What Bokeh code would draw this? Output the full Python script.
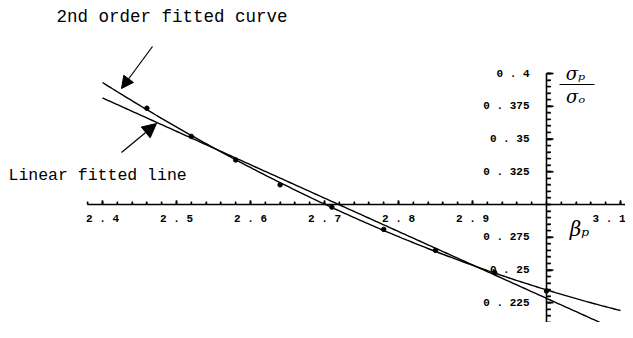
import numpy as np
from bokeh.plotting import figure
from bokeh.models import (FixedTicker, CustomJSTickFormatter, Label, Arrow,
                          NormalHead, Range1d)
from bokeh.embed import file_html
from bokeh.resources import INLINE

# ---- data ----
beta_p = [2.46, 2.52, 2.58, 2.64, 2.71, 2.78, 2.85, 2.93, 3.00]
sigma_ratio = [0.3735, 0.352, 0.334, 0.315, 0.298, 0.281, 0.265, 0.248, 0.234]
x_major = [2.4, 2.5, 2.6, 2.7, 2.8, 2.9, 3.1]
x_minor = [round(2.38 + 0.02 * i, 2) for i in range(37)]
y_major = [0.225, 0.25, 0.275, 0.325, 0.35, 0.375, 0.4]
y_minor = [round(0.2 + 0.005 * i, 3) for i in range(41)]
fit_span = (2.4, 3.1)

# ---- layout ----
W, H = 625, 322
X0_PX, PX_PER_X = 546, 740    # figure px where beta = 3.0
Y0_PX, PX_PER_Y = 204, 1310   # figure px (from top) where ratio = 0.3

x_start = 3.0 - X0_PX / PX_PER_X
x_end = 3.0 + (W - X0_PX) / PX_PER_X
y_end = 0.3 + Y0_PX / PX_PER_Y
y_start = 0.3 - (H - Y0_PX) / PX_PER_Y


def at(px, py):
    """reference-image pixel -> data coordinates"""
    return (3.0 + (px - 1 - X0_PX) / PX_PER_X,
            0.3 - (py - 1 - Y0_PX) / PX_PER_Y)


p = figure(width=W, height=H, x_range=Range1d(x_start, x_end),
           y_range=Range1d(y_start, y_end), output_backend="svg",
           toolbar_location=None, min_border=0)
p.outline_line_color = None
p.grid.visible = False
p.background_fill_color = "white"

# axes crossing at (3.0, 0.3)
p.xaxis.fixed_location = 0.3
p.yaxis.fixed_location = 3.0
fmt_code = "return (+tick.toFixed(3)).toString().replace('.', ' . ');"
for ax, major, minor, bounds in ((p.xaxis[0], x_major, x_minor, (2.38, 3.11)),
                                 (p.yaxis[0], y_major, y_minor, (0.2, 0.4))):
    ax.ticker = FixedTicker(ticks=major, minor_ticks=minor)
    ax.formatter = CustomJSTickFormatter(code=fmt_code)
    ax.bounds = bounds
    ax.axis_line_color = "black"
    ax.axis_line_width = 1.6
    ax.major_tick_line_color = "black"
    ax.major_tick_line_width = 1.6
    ax.minor_tick_line_color = "black"
    ax.minor_tick_line_width = 1.4
    ax.major_label_text_font = "Liberation Mono"
    ax.major_label_text_font_style = "bold"
    ax.major_label_text_font_size = "11px"
    ax.major_label_text_color = "black"

p.xaxis.major_tick_in = 4
p.xaxis.major_tick_out = 0
p.xaxis.minor_tick_in = 3
p.xaxis.minor_tick_out = 0
p.xaxis.major_label_standoff = 8
p.yaxis.major_tick_in = 6
p.yaxis.major_tick_out = 0
p.yaxis.minor_tick_in = 4
p.yaxis.minor_tick_out = 0
p.yaxis.major_label_standoff = 17

# fitted curves (from the data)
lin = np.polyfit(beta_p, sigma_ratio, 1)
quad = np.polyfit(beta_p, sigma_ratio, 2)
xs = np.linspace(fit_span[0], fit_span[1], 200)
p.line(xs, np.polyval(lin, xs), line_color="black", line_width=1.4)
p.line(xs, np.polyval(quad, xs), line_color="black", line_width=1.4)
p.scatter(beta_p, sigma_ratio, size=4.5, color="black")

# tick marks drawn on the axes themselves as a second, tick-only pass
for ax, major, minor, loc in ((p.xaxis[0], x_major, x_minor, 0.3),
                              (p.yaxis[0], y_major, y_minor, 3.0)):
    pass


# annotations
def label(text, px, py, font="Liberation Mono", size="17px", style="normal",
          align="left"):
    x, y = at(px, py)
    p.add_layout(Label(x=x, y=y, text=text, text_font=font,
                       text_font_size=size, text_font_style=style,
                       text_align=align, text_baseline="middle",
                       text_color="black"))


label("2nd order fitted curve", 57, 17, size="17.5px")
label("Linear fitted line", 9, 176, size="16.5px")
label("σₚ", 576, 74, font="DejaVu Serif", size="18px", style="italic",
      align="center")
label("σₒ", 576, 97, font="DejaVu Serif", size="18px", style="italic",
      align="center")
label("βₚ", 580, 229, font="DejaVu Serif", size="20px", style="italic",
      align="center")


def arrow(p0, p1, head=True, size=12):
    x0, y0 = at(*p0)
    x1, y1 = at(*p1)
    end = NormalHead(size=size, fill_color="black", line_color="black") if head else None
    p.add_layout(Arrow(x_start=x0, y_start=y0, x_end=x1, y_end=y1, end=end,
                       line_color="black", line_width=1.2))


arrow((153, 47), (122, 89))
arrow((122, 153), (157, 124), size=14)
arrow((560, 85), (595, 85), head=False)

# tick stubs: segments at every tick position along each axis
for ticks, length in ((y_major, 6), (y_minor, 3.5)):
    x0, _ = at(548, 0)
    x1, _ = at(548 + length, 0)
    p.segment(x0=x0, x1=x1, y0=ticks, y1=ticks, line_color="black",
              line_width=1.3)
for ticks, length in ((x_major, 4), (x_minor, 2.5)):
    _, y0 = at(0, 205)
    _, y1 = at(0, 205 - length)
    p.segment(x0=ticks, x1=ticks, y0=y0, y1=y1, line_color="black",
              line_width=1.3)

open("out.html", "w").write(file_html(p, INLINE))
